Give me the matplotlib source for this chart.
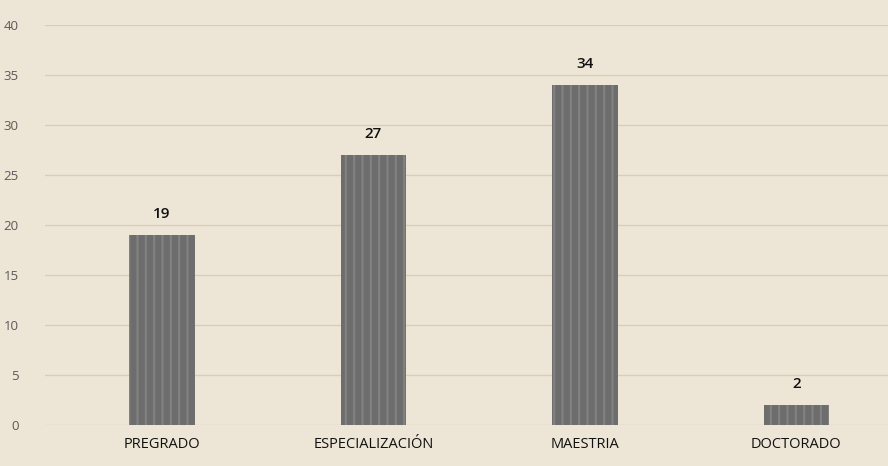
import matplotlib
matplotlib.use("Agg")
import matplotlib.pyplot as plt

categories = ["PREGRADO", "ESPECIALIZACIÓN", "MAESTRIA", "DOCTORADO"]
values = [19, 27, 34, 2]
y_ticks = [0, 5, 10, 15, 20, 25, 30, 35, 40]

BG = "#ede5d5"
BAR = "#6d6d6d"

plt.rcParams["font.family"] = ["Open Sans", "DejaVu Sans"]
plt.rcParams["hatch.linewidth"] = 1.5

fig = plt.figure(figsize=(8.88, 4.66), dpi=100, facecolor=BG)
ax = fig.add_axes([45 / 888, 41 / 466, 843 / 888, 400 / 466], facecolor=BG)

x = range(len(categories))
ax.bar(x, values, width=0.31, color=BAR, linewidth=0, zorder=3)
# faint vertical streaks like the scanned bars
ax.bar(x, values, width=0.31, fill=False, hatch="||", edgecolor="#828282",
       linewidth=0, zorder=4)

for xi, v in zip(x, values):
    ax.annotate(str(v), (xi, v), xytext=(0, 10), textcoords="offset points",
                ha="center", va="bottom", fontsize=11, fontweight="semibold",
                color="#111111")

ax.set_xlim(-0.553, 3.433)
ax.set_ylim(0, 40)
ax.set_yticks(y_ticks)
ax.set_yticklabels([str(t) for t in y_ticks], color="#5a5a5a", fontsize=9.5)
ax.set_xticks(list(x))
ax.set_xticklabels(categories, fontsize=10.5, color="#111111")
ax.tick_params(axis="y", length=0, pad=19)
ax.tick_params(axis="x", length=0, pad=9)
ax.grid(axis="y", color="#d6cdbd", linewidth=0.9, zorder=0)
for s in ax.spines.values():
    s.set_visible(False)

fig.savefig("out.png", dpi=100, facecolor=BG)
